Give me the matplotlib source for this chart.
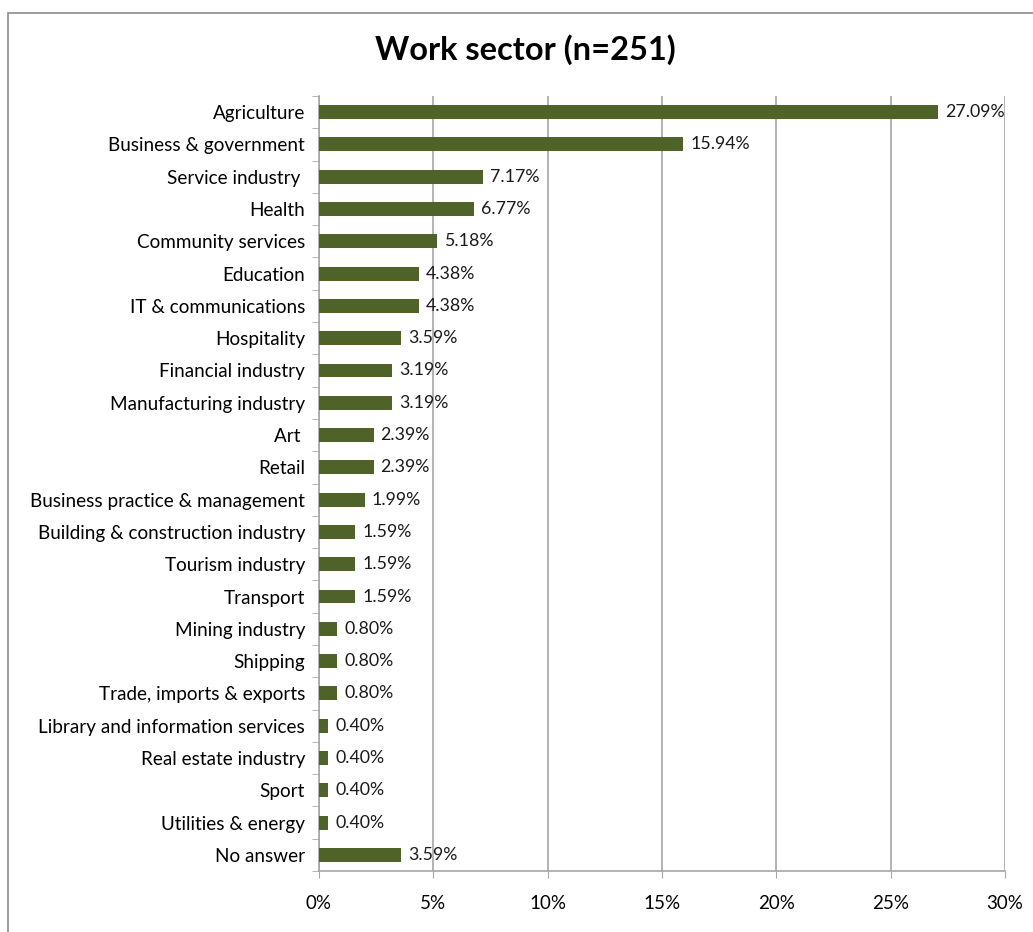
import matplotlib.pyplot as plt
from matplotlib.patches import Rectangle
from matplotlib.ticker import FixedLocator, PercentFormatter
import numpy as np

plt.rcParams['font.family'] = ['Lato', 'DejaVu Sans']

sectors = ["Agriculture", "Business & government", "Service industry ", "Health",
           "Community services", "Education", "IT & communications", "Hospitality",
           "Financial industry", "Manufacturing industry", "Art ", "Retail",
           "Business practice & management", "Building & construction industry",
           "Tourism industry", "Transport", "Mining industry", "Shipping",
           "Trade, imports & exports", "Library and information services",
           "Real estate industry", "Sport", "Utilities & energy", "No answer"]
shares = [27.09, 15.94, 7.17, 6.77, 5.18, 4.38, 4.38, 3.59, 3.19, 3.19, 2.39, 2.39,
          1.99, 1.59, 1.59, 1.59, 0.80, 0.80, 0.80, 0.40, 0.40, 0.40, 0.40, 3.59]
x_ticks = [0, 5, 10, 15, 20, 25, 30]

bar_color = "#4f6228"
grid_color = "#a6a6a6"

fig = plt.figure(figsize=(10.33, 9.32), dpi=100)
# chart area frame
fig.patches.append(Rectangle((8 / 1033, -0.1), 1.2, 1 - 13 / 932 + 0.1,
                             transform=fig.transFigure, fill=False,
                             edgecolor="#8c8c8c", linewidth=1.2))

ax = fig.add_axes([319 / 1033, 1 - 871 / 932, (1005 - 319) / 1033, (871 - 96) / 932])

pos = np.arange(len(sectors))
ax.barh(pos, shares, height=0.43, color=bar_color, zorder=3)
for p, v in zip(pos, shares):
    ax.text(v + 0.3, p, f"{v:.2f}%", va="center", ha="left", fontsize=12.8,
            color="#1a1a1a", zorder=4)

ax.set_ylim(len(sectors) - 0.5, -0.5)
ax.set_xlim(0, 30)
ax.set_yticks(pos)
ax.set_yticklabels(sectors, fontsize=13.6)
ax.yaxis.set_minor_locator(FixedLocator(np.arange(-0.5, len(sectors), 1)))
ax.tick_params(axis="y", which="major", length=0, pad=10)
ax.tick_params(axis="y", which="minor", length=5, color=grid_color, direction="out")

ax.xaxis.set_major_locator(FixedLocator(x_ticks))
ax.xaxis.set_major_formatter(PercentFormatter(decimals=0))
ax.tick_params(axis="x", length=5, color=grid_color, labelsize=13.5, pad=12)
ax.grid(axis="x", color=grid_color, linewidth=1.2, zorder=0)

for s in ["top", "right"]:
    ax.spines[s].set_visible(False)
for s in ["left", "bottom"]:
    ax.spines[s].set_color(grid_color)
    ax.spines[s].set_linewidth(1.2)

fig.text(525 / 1033, 1 - 50 / 932, "Work sector (n=251)", ha="center", va="center",
         fontsize=23.5, fontweight="bold")

fig.savefig("out.png", dpi=100)
